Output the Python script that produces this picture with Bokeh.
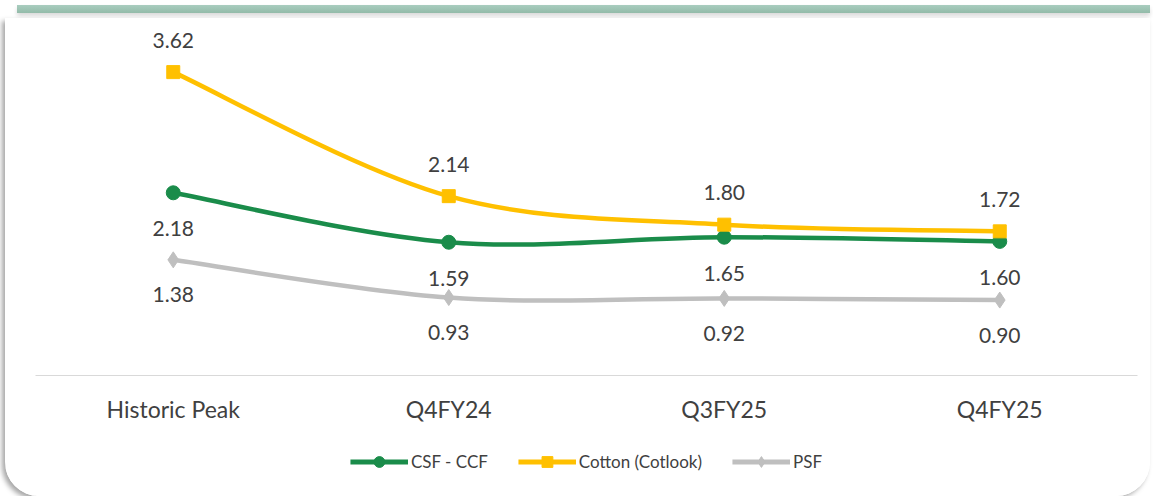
from bokeh.plotting import figure
from bokeh.models import (Range1d, FixedTicker, Legend, LegendItem, Div, ColumnDataSource)
from bokeh.layouts import column
from bokeh.core.properties import value
from bokeh.embed import file_html
from bokeh.resources import INLINE

categories = ["Historic Peak", "Q4FY24", "Q3FY25", "Q4FY25"]
csf_ccf = [2.18, 1.59, 1.65, 1.60]
cotton = [3.62, 2.14, 1.80, 1.72]
psf = [1.38, 0.93, 0.92, 0.90]

GREEN = "#1A8C4A"
YELLOW = "#FFC000"
GREY = "#BFBFBF"
TEXT = "#404040"
FONT = "Lato"

xs = [i + 0.5 for i in range(len(categories))]

p = figure(width=1145, height=430, output_backend="svg", toolbar_location=None,
           x_range=Range1d(0, len(categories)), y_range=Range1d(0, 4.2),
           y_axis_location=None, min_border_left=30, min_border_right=13,
           min_border_top=5, min_border_bottom=73)
p.outline_line_color = None
p.grid.visible = False
p.background_fill_color = "white"
p.border_fill_color = "white"

xa = p.xaxis[0]
xa.ticker = FixedTicker(ticks=xs)
xa.major_label_overrides = {x: c for x, c in zip(xs, categories)}
xa.major_tick_line_color = None
xa.minor_tick_line_color = None
xa.axis_line_color = "#D9D9D9"
xa.axis_line_width = 1
xa.major_label_text_font = FONT
xa.major_label_text_font_size = "23px"
xa.major_label_text_color = TEXT
xa.major_label_standoff = 13


def smooth(xv, yv):
    n = len(xv)
    pts = list(zip(xv, yv))
    out = {k: [] for k in ["x0", "y0", "x1", "y1", "cx0", "cy0", "cx1", "cy1"]}
    for i in range(n - 1):
        p0 = pts[i - 1] if i > 0 else pts[i]
        p1 = pts[i]
        p2 = pts[i + 1]
        p3 = pts[i + 2] if i + 2 < n else pts[i + 1]
        out["x0"].append(p1[0]); out["y0"].append(p1[1])
        out["x1"].append(p2[0]); out["y1"].append(p2[1])
        out["cx0"].append(p1[0] + (p2[0] - p0[0]) / 6)
        out["cy0"].append(p1[1] + (p2[1] - p0[1]) / 6)
        out["cx1"].append(p2[0] - (p3[0] - p1[0]) / 6)
        out["cy1"].append(p2[1] - (p3[1] - p1[1]) / 6)
    return ColumnDataSource(out)


# small figure that only carries the legend, placed under the chart
lf = figure(width=1145, height=48, output_backend="svg", toolbar_location=None,
            x_range=Range1d(0, 1), y_range=Range1d(0, 1),
            x_axis_location=None, y_axis_location=None,
            min_border_left=0, min_border_right=0, min_border_top=0, min_border_bottom=0)
lf.outline_line_color = None
lf.grid.visible = False
lf.background_fill_color = "white"
lf.border_fill_color = "white"

series = [
    ("CSF - CCF", csf_ccf, GREEN, "circle", 14, 36, 10),
    ("Cotton (Cotlook)", cotton, YELLOW, "square", 13, -32, 10),
    ("PSF", psf, GREY, "diamond", 16, 35, 12),
]

items = []
for name, vals, color, marker, size, yoff, lsize in series:
    p.bezier(x0="x0", y0="y0", x1="x1", y1="y1", cx0="cx0", cy0="cy0",
             cx1="cx1", cy1="cy1", source=smooth(xs, vals),
             line_color=color, line_width=4.5)
    p.scatter(xs, vals, marker=marker, size=size, fill_color=color, line_color=color)
    labels = ["{:.2f}".format(v) for v in vals]
    p.text(xs, vals, text=labels, y_offset=yoff, text_align="center",
           text_baseline="middle", text_font=value(FONT), text_font_size="21px",
           text_color=TEXT)
    lg_line = lf.line(xs, vals, line_color=color, line_width=5, visible=False)
    lg_mark = lf.scatter(xs, vals, marker=marker, size=lsize, fill_color=color,
                         line_color=color, visible=False)
    items.append(LegendItem(label=name, renderers=[lg_line, lg_mark]))

legend = Legend(items=items, orientation="horizontal", location="top_center",
                glyph_width=58, glyph_height=27, label_standoff=3, spacing=30,
                label_text_font=FONT, label_text_font_size="17px",
                label_text_color=TEXT, border_line_color=None,
                background_fill_alpha=0, margin=0, padding=1)
lf.add_layout(legend, "center")

bar = Div(text="", width=1133, height=8,
          styles={"background": "linear-gradient(#a9cdbf, #93bba9)",
                  "margin-left": "17px", "box-shadow": "0 3px 4px rgba(0,0,0,0.15)"})

card = column(p, lf, spacing=0,
              styles={"border-radius": "0 0 34px 34px", "overflow": "hidden",
                      "background": "white", "margin-left": "5px",
                      "box-shadow": "-3px 3px 5px rgba(0,0,0,0.35)"})

layout = column(bar, card, spacing=0)
open("out.html", "w").write(file_html(layout, INLINE))
